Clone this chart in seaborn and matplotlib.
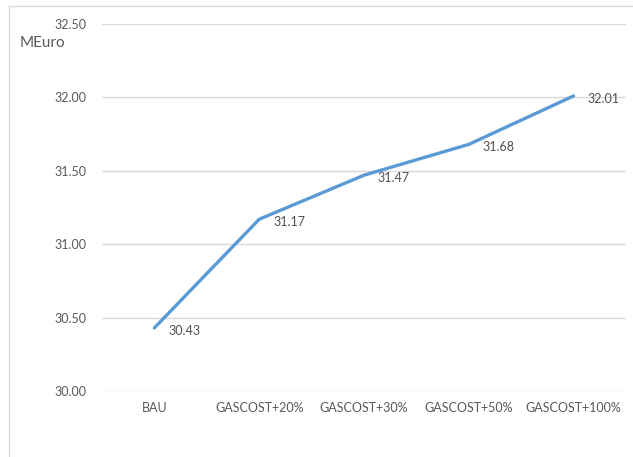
import matplotlib
matplotlib.use("Agg")
import matplotlib.pyplot as plt
from matplotlib.patches import Rectangle
import pandas as pd
import seaborn as sns

scenarios = ["BAU", "GASCOST+20%", "GASCOST+30%", "GASCOST+50%", "GASCOST+100%"]
costs = [30.43, 31.17, 31.47, 31.68, 32.01]
y_ticks = [30.00, 30.50, 31.00, 31.50, 32.00, 32.50]

df = pd.DataFrame({"scenario": scenarios, "cost": costs})

sns.set_theme(style="white")
plt.rcParams["font.family"] = ["Lato", "DejaVu Sans"]
text_color = "#595959"
grid_color = "#D9D9D9"

fig = plt.figure(figsize=(6.33, 4.57), dpi=100)
ax = fig.add_axes([102 / 633, 1 - 391 / 457, 524 / 633, 367 / 457])

sns.lineplot(data=df, x="scenario", y="cost", sort=False, color="#5B9BD5",
             linewidth=2.4, ax=ax)

# data labels to the right of each point
for i, v in enumerate(costs):
    ax.annotate(f"{v:.2f}", (i, v), xytext=(10, -2), textcoords="offset points",
                ha="left", va="center", fontsize=9, color="#505050")

ax.set_xlim(-0.5, len(scenarios) - 0.5)
ax.set_ylim(y_ticks[0], y_ticks[-1])
ax.set_yticks(y_ticks)
ax.set_yticklabels([f"{t:.2f}" for t in y_ticks])
ax.set_xlabel("")
ax.set_ylabel("")
ax.yaxis.grid(True, color=grid_color, linewidth=1)
ax.set_axisbelow(True)
for s in ax.spines.values():
    s.set_visible(False)
ax.tick_params(axis="y", length=0, pad=11, labelsize=9, labelcolor=text_color)
ax.tick_params(axis="x", length=0, pad=8, labelsize=9, labelcolor=text_color)

fig.text(20 / 633, 1 - 43 / 457, "MEuro", fontsize=11, color=text_color,
         ha="left", va="center")

# outer chart frame (extends beyond the picture on the right and bottom)
fig.patches.append(Rectangle((9 / 633, -0.1), 1.0, 1.1 - 6 / 457,
                             transform=fig.transFigure, fill=False,
                             edgecolor=grid_color, linewidth=1))

fig.savefig("out.png", dpi=100)
plt.close(fig)
